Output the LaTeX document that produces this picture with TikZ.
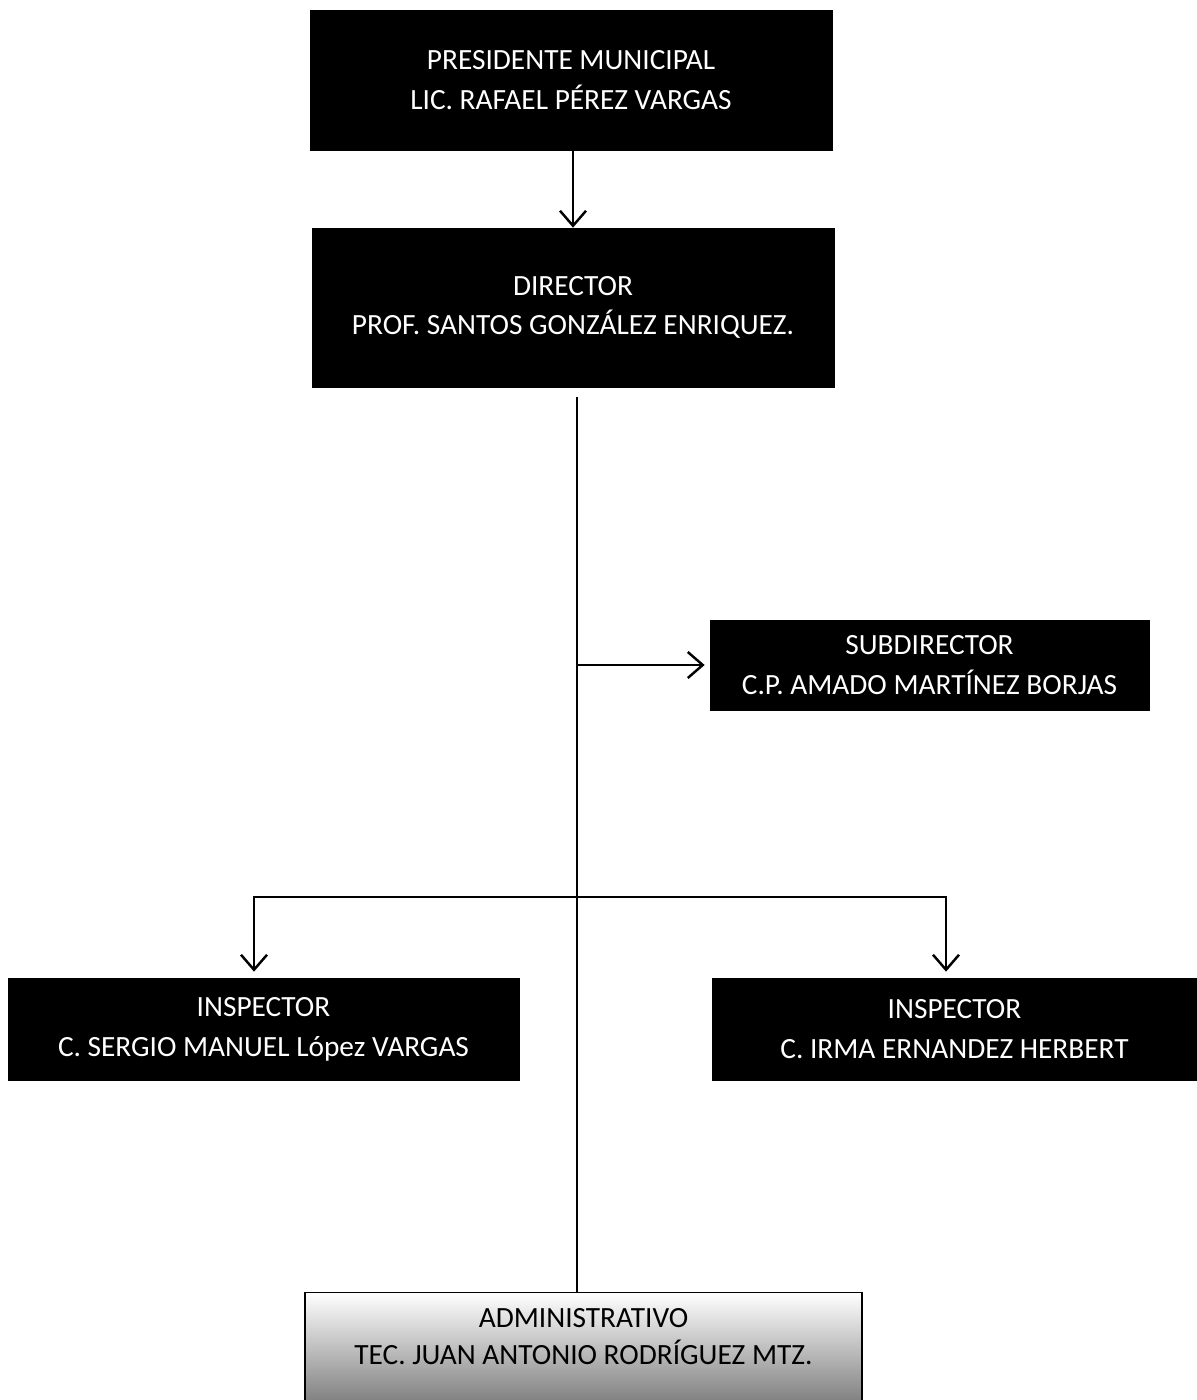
\documentclass[tikz,border=0pt]{standalone}
\usepackage{fontspec}
\setmainfont{Carlito}
\usetikzlibrary{arrows.meta,positioning}
\tikzset{
  post/.style={draw=black, fill=black, text=white, align=center, inner sep=2pt,
    font=\fontsize{16.7}{22.6}\selectfont},
  staff/.style={draw=black, line width=0.9pt, top color=white, bottom color=black!50,
    text=black, align=center, inner sep=2pt, text depth=0.45cm,
    font=\fontsize{16.7}{21}\selectfont},
  link/.style={line width=1.3pt},
  arr/.style={link, -{Straight Barb[length=3mm, width=5.2mm, line width=1.4pt]}}
}
\begin{document}
\begin{tikzpicture}
  \useasboundingbox (0,0) rectangle (23.94,-28);
  \node[post, minimum width=10.44cm, minimum height=2.8cm] (pres) at (11.42,-1.6)
    {PRESIDENTE MUNICIPAL\\LIC. RAFAEL PÉREZ VARGAS};
  \node[post, minimum width=10.44cm, minimum height=3.18cm] (dir) at (11.46,-6.15)
    {DIRECTOR\\PROF. SANTOS GONZÁLEZ ENRIQUEZ.};
  \node[post, minimum width=8.78cm, minimum height=1.8cm] (sub) at (18.59,-13.3)
    {SUBDIRECTOR\\C.P. AMADO MARTÍNEZ BORJAS};
  \node[post, minimum width=10.22cm, minimum height=2.04cm] (inspl) at (5.27,-20.58)
    {INSPECTOR\\C. SERGIO MANUEL López VARGAS};
  \node[post, minimum width=9.7cm, minimum height=2.04cm] (inspr) at (19.09,-20.58)
    {INSPECTOR\\C. IRMA ERNANDEZ HERBERT};
  \node[staff, minimum width=11.14cm, minimum height=2.2cm] (admin) at (11.67,-26.95)
    {ADMINISTRATIVO\\TEC. JUAN ANTONIO RODRÍGUEZ MTZ.};
  % trunk and branches
  \coordinate (top) at ([xshift=0.08cm, yshift=-0.2cm]dir.south);
  \coordinate (branch) at (top |- 0,-17.94);
  \draw[arr] (dir.north |- pres.south) -- (dir.north);
  \draw[link] (top) -- (top |- admin.north);
  \draw[arr] (top |- sub.west) -- ([xshift=-0.1cm]sub.west);
  \draw[arr] (branch) -| ([xshift=-0.19cm, yshift=0.12cm]inspl.north);
  \draw[arr] (branch) -| ([xshift=-0.17cm, yshift=0.12cm]inspr.north);
\end{tikzpicture}
\end{document}
